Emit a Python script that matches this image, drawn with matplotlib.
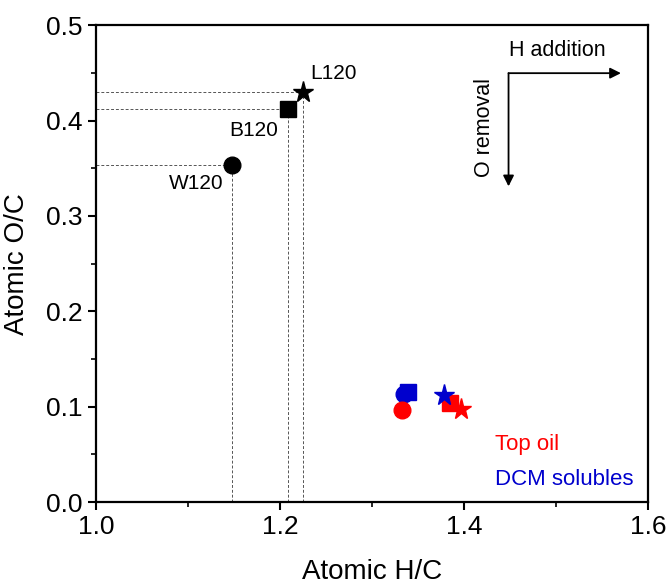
"""Van Krevelen-style plot: atomic O/C vs H/C for feedstocks and upgraded products."""
import matplotlib
matplotlib.use("Agg")
import matplotlib.pyplot as plt
from matplotlib.ticker import MultipleLocator

plt.rcParams["font.family"] = ["Liberation Sans", "DejaVu Sans"]

# Feedstocks (black, labelled)
feed_names = ["W120", "B120", "L120"]
feed_hc = [1.148, 1.209, 1.225]
feed_oc = [0.353, 0.412, 0.430]

# Products: circle / square / star order matches feedstock order
top_oil_hc = [1.333, 1.385, 1.397]
top_oil_oc = [0.097, 0.104, 0.098]
dcm_hc = [1.335, 1.339, 1.378]
dcm_oc = [0.113, 0.115, 0.112]

markers = ["o", "s", "*"]
msizes = [12, 11, 15.5]
# stacking seen in the original: red circle over blue, blue star over red square
top_oil_z = [5, 3, 5]
dcm_z = [3, 3, 4]
RED = "#ff0000"
BLUE = "#0000cd"

fig = plt.figure(figsize=(6.7, 5.86), dpi=100)
ax = fig.add_axes([0.1433, 0.1433, 0.8237, 0.8137])

# guide lines from the axes to each feedstock point
for x, y in zip(feed_hc, feed_oc):
    ax.plot([1.0, x], [y, y], ls=(0, (3, 2)), color="#555555", lw=0.7, zorder=1)
    ax.plot([x, x], [0.0, y], ls=(0, (3, 2)), color="#555555", lw=0.7, zorder=1)

for x, y, m, s in zip(feed_hc, feed_oc, markers, msizes):
    ax.plot(x, y, marker=m, ms=s, color="black", ls="none", zorder=3)

for x, y, m, s, z in zip(dcm_hc, dcm_oc, markers, msizes, dcm_z):
    ax.plot(x, y, marker=m, ms=s, color=BLUE, ls="none", zorder=z)
for x, y, m, s, z in zip(top_oil_hc, top_oil_oc, markers, msizes, top_oil_z):
    ax.plot(x, y, marker=m, ms=s, color=RED, ls="none", zorder=z)

# point labels
ax.text(1.2326, 0.4497, "L120", fontsize=15, ha="left", va="center")
ax.text(1.1717, 0.390, "B120", fontsize=15, ha="center", va="center")
ax.text(1.1087, 0.3344, "W120", fontsize=15, ha="center", va="center")

# direction arrows
arrow = dict(arrowstyle="-|>", lw=1.3, color="black", mutation_scale=16,
             shrinkA=0, shrinkB=0)
ax.annotate("", xy=(1.5707, 0.4497), xytext=(1.4485, 0.4497), arrowprops=arrow)
ax.annotate("", xy=(1.4485, 0.331), xytext=(1.4485, 0.4497), arrowprops=arrow)
ax.text(1.502, 0.4738, "H addition", fontsize=15.5, ha="center", va="center")
ax.text(1.4228, 0.393, "O removal", fontsize=15.5, ha="center", va="center",
        rotation=90)

# colour key
ax.text(1.4337, 0.0608, "Top oil", fontsize=16, color=RED, ha="left", va="center")
ax.text(1.4337, 0.0241, "DCM solubles", fontsize=16, color=BLUE, ha="left",
        va="center")

ax.set_xlim(1.0, 1.6)
ax.set_ylim(0.0, 0.5)
ax.xaxis.set_major_locator(MultipleLocator(0.2))
ax.xaxis.set_minor_locator(MultipleLocator(0.1))
ax.yaxis.set_major_locator(MultipleLocator(0.1))
ax.yaxis.set_minor_locator(MultipleLocator(0.05))
ax.xaxis.set_major_formatter(lambda v, p: f"{v:.1f}")
ax.yaxis.set_major_formatter(lambda v, p: f"{v:.1f}")
ax.tick_params(which="major", direction="out", length=6, width=1.5,
               labelsize=19, top=False, right=False)
ax.tick_params(which="minor", direction="out", length=3.5, width=1.2,
               top=False, right=False)
for sp in ax.spines.values():
    sp.set_linewidth(1.6)

ax.set_xlabel("Atomic H/C", fontsize=20, labelpad=14)
ax.set_ylabel("Atomic O/C", fontsize=20, labelpad=12)

fig.savefig("out.png", dpi=100)
